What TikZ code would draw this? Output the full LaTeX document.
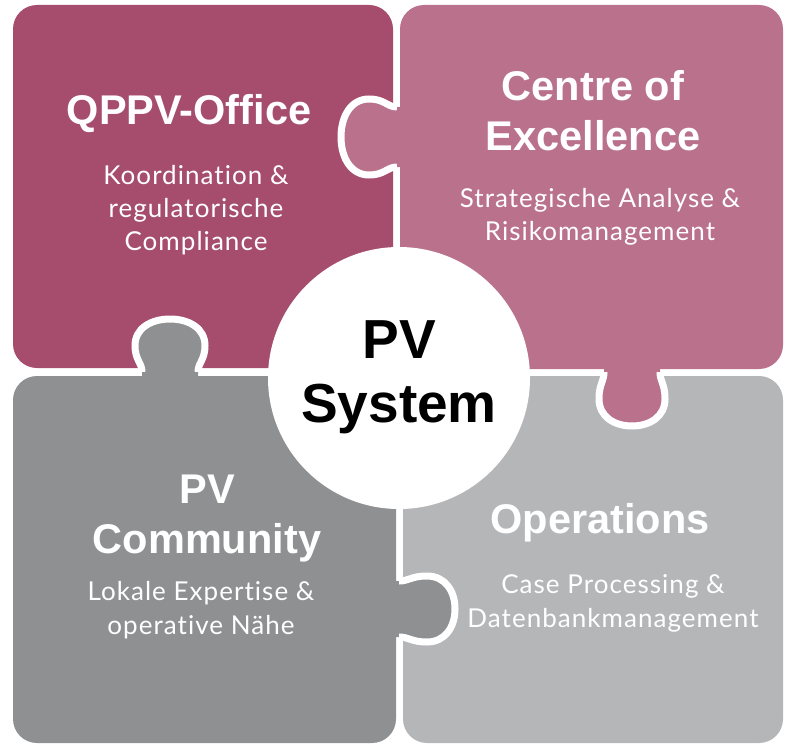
\documentclass[tikz,border=0pt]{standalone}
\usepackage{fontspec}
\setmainfont{Lato}[LetterSpace=4, Ligatures=NoCommon]
\newfontfamily\headfont{Liberation Sans}
\definecolor{tlc}{HTML}{A64D6E}
\definecolor{trc}{HTML}{BA718C}
\definecolor{blc}{HTML}{8F9092}
\definecolor{brc}{HTML}{B5B6B8}
\newcommand{\pzknob}[7]{%
 \begin{scope}[shift={(#2,#3)}, rotate=#4]
  \fill[#1] (-6,-#5) -- (0,-#5)
    .. controls ({0.18*#7},-#5) and ({0.22*#7},-#6) .. ({0.5*#7},-#6)
    .. controls ({0.82*#7},-#6) and (#7,{-0.55*#6}) .. (#7,0)
    .. controls (#7,{0.55*#6}) and ({0.82*#7},#6) .. ({0.5*#7},#6)
    .. controls ({0.22*#7},#6) and ({0.18*#7},#5) .. (0,#5) -- (-6,#5) -- cycle;
  \draw[white, line width=7pt] (0,-#5)
    .. controls ({0.18*#7},-#5) and ({0.22*#7},-#6) .. ({0.5*#7},-#6)
    .. controls ({0.82*#7},-#6) and (#7,{-0.55*#6}) .. (#7,0)
    .. controls (#7,{0.55*#6}) and ({0.82*#7},#6) .. ({0.5*#7},#6)
    .. controls ({0.22*#7},#6) and ({0.18*#7},#5) .. (0,#5);
 \end{scope}}
\begin{document}
\begin{tikzpicture}[x=1pt,y=-1pt,
  title/.style={text=white, font=\headfont\bfseries\fontsize{41.5}{48}\selectfont, anchor=base, inner sep=0pt},
  sub/.style={text=white, font=\fontsize{26}{28}\selectfont, anchor=base, inner sep=0pt},
  core/.style={text=black, font=\headfont\bfseries\fontsize{55}{60}\selectfont, anchor=base, inner sep=0pt}]
\useasboundingbox (0,0) rectangle (791,749);
% pieces
\fill[tlc, rounded corners=24pt] (13,5) rectangle (393,368);
\fill[trc, rounded corners=24pt] (400,5) rectangle (783,369);
\fill[blc, rounded corners=24pt] (13,376) rectangle (396,743);
\fill[brc, rounded corners=24pt] (403,376) rectangle (783,743);
% knobs
\pzknob{trc}{397}{137}{180}{30}{38}{56}
\pzknob{blc}{170}{372}{90}{28}{35}{53}
\pzknob{trc}{632}{372}{-90}{28}{33}{54}
\pzknob{blc}{399}{609}{0}{28}{33}{56}
% centre
\node (hub) [circle, fill=white, minimum size=262pt, inner sep=0pt] at (399,378) {};
\node (pv) [core] at (399,358) {PV};
\node (sys) [core] at (399,422) {System};
% texts
\node (qppv) [title] at (189,124) {QPPV-Office};
\node (q1) [sub] at (196,184) {Koordination \&};
\node (q2) [sub] at (196,217) {regulatorische};
\node (q3) [sub] at (196,250) {Compliance};
\node (coe1) [title] at (593,100) {Centre of};
\node (coe2) [title] at (593,150) {Excellence};
\node (c1) [sub] at (600,207) {Strategische Analyse \&};
\node (c2) [sub] at (600,240) {Risikomanagement};
\node (com1) [title] at (207,503) {PV};
\node (com2) [title] at (207,553) {Community};
\node (m1) [sub] at (201,600) {Lokale Expertise \&};
\node (m2) [sub] at (201,634) {operative Nähe};
\node (ops) [title] at (600,533) {Operations};
\node (o1) [sub] at (613,593) {Case Processing \&};
\node (o2) [sub] at (613,627) {Datenbankmanagement};
\end{tikzpicture}
\end{document}
